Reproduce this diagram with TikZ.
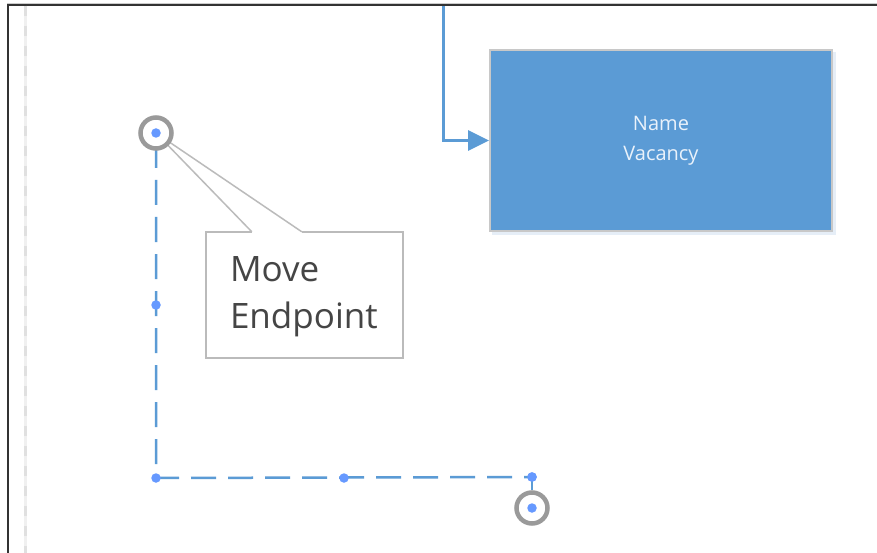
\documentclass[tikz,border=0pt]{standalone}
\usepackage{fontspec}
\newfontfamily\osans{Open Sans}
\usetikzlibrary{arrows.meta,calc}
\definecolor{conblue}{HTML}{5B9BD5}
\definecolor{dotblue}{RGB}{102,153,255}
\definecolor{boxborder}{HTML}{C8C8C8}
\definecolor{ringgray}{HTML}{9A9A9A}
\definecolor{callgray}{HTML}{BBBBBB}
\definecolor{framegray}{HTML}{333333}
\definecolor{textgray}{HTML}{454545}
\definecolor{boxtext}{HTML}{EAF2FB}
\definecolor{shadowblue}{HTML}{E6EEF7}
\tikzset{
  entity/.style={rectangle, fill=conblue, draw=boxborder, line width=2pt,
    minimum width=342pt, minimum height=181pt, inner sep=0pt,
    font=\osans\fontsize{20pt}{30pt}\selectfont, text=boxtext, align=center},
  conn/.style={draw=conblue, line width=3pt, -{Triangle[length=21pt,width=20pt]}},
  dashconn/.style={draw=conblue, line width=2.5pt, dash pattern=on 25pt off 12pt, dash phase=-10pt},
  ring/.style={circle, draw=ringgray, fill=white, line width=4.5pt, minimum size=31pt, inner sep=0pt},
  handle/.style={circle, fill=dotblue, minimum size=9.5pt, inner sep=0pt},
  calloutbox/.style={rectangle, minimum width=197pt, minimum height=126pt, inner sep=0pt},
  callline/.style={draw=callgray, line width=2.2pt},
  pointerline/.style={draw=callgray, line width=1.5pt},
  calltext/.style={font=\osans\fontsize{35pt}{47pt}\selectfont, text=textgray, align=left, inner sep=0pt}
}
\begin{document}
\begin{tikzpicture}[x=1pt,y=-1pt]
\fill[white] (0,0) rectangle (877,553);
\useasboundingbox (0,0) rectangle (877,553);
% frame
\draw[line width=1pt, color=black!20] (7,3.5) -- (877,3.5);
\draw[line width=2pt, color=framegray] (7.5,553) -- (7.5,5) -- (877,5);
% left guide
\draw[line width=3pt, color=black!6] (25,6) -- (25,553);
\draw[line width=3pt, color=black!12, dash pattern=on 10pt off 10pt] (25,6) -- (25,553);
% vacancy box with shadow
\fill[shadowblue] (492,52) rectangle (836,235);
\node[entity] (vac) at (661,140.5) {Name\\Vacancy};
\coordinate (topin) at (443,6);
\draw[conn] (topin) |- (vac.west);
% callout
\node[calloutbox] (callout) at (304.5,295) {};
% selected connector
\coordinate (corner) at (156,478);
\node[handle] (h1) at (156,133) {};
\node[handle] (h5) at (532,477) {};
\draw[dashconn] (h1.center) -- (corner) -- (h5.center);
\node[ring] (ep2) at (532,508) {};
\draw[line width=2.5pt, draw=conblue] (h5.center) -- (ep2.north);
\draw[pointerline] ($(callout.north west)+(46,0)$) -- (h1.center) -- ($(callout.north west)+(96,0)$);
\draw[callline] ($(callout.north west)+(46,0)$) -- (callout.north west) -- (callout.south west) -- (callout.south east) -- (callout.north east) -- ($(callout.north west)+(96,0)$);
\node[calltext, anchor=north west] (ctext) at ($(callout.north west)+(24,25)$) {Move\\Endpoint};
\node[ring] (ep1) at (156,133) {};
\node[handle] (h1b) at (ep1.center) {};
\node[handle] (h2) at (156,305) {};
\node[handle] (h3) at (corner) {};
\node[handle] (h4) at (344,478) {};
\node[handle] (h5b) at (h5.center) {};
\node[handle] (h6) at (ep2.center) {};
\end{tikzpicture}
\end{document}
